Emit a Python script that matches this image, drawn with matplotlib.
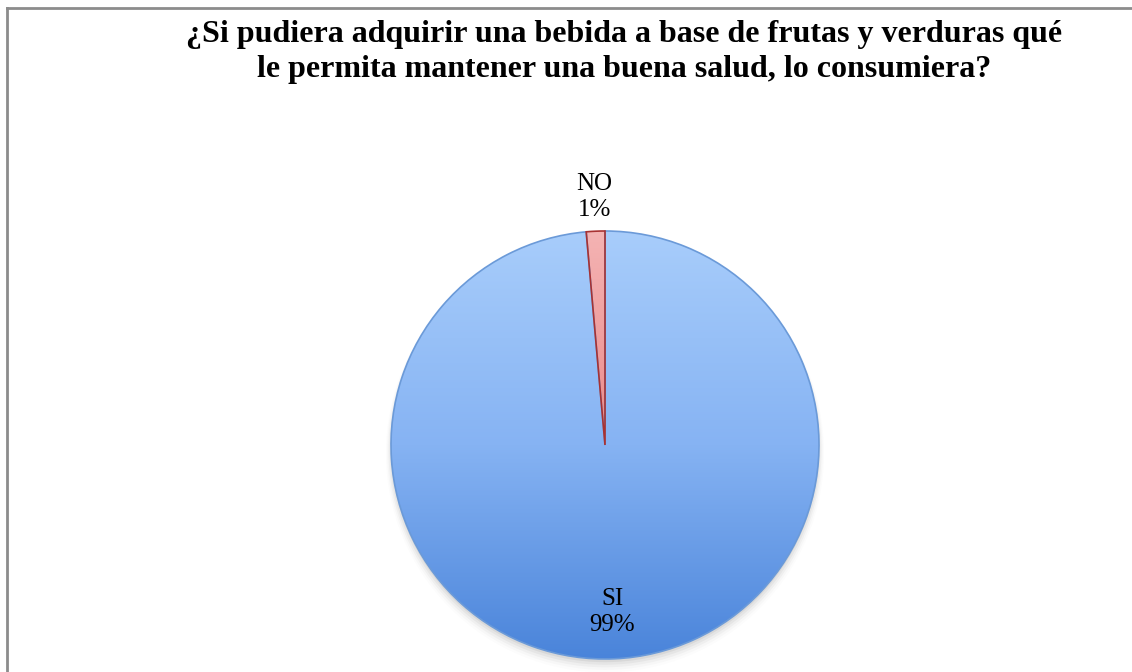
import numpy as np
import matplotlib
matplotlib.use("Agg")
import matplotlib.pyplot as plt
from matplotlib.lines import Line2D
from matplotlib.colors import LinearSegmentedColormap

TITLE = "¿Si pudiera adquirir una bebida a base de frutas y verduras qué\nle permita mantener una buena salud, lo consumiera?"
categories = ["SI", "NO"]
values = [98.6, 1.4]
pct_labels = ["99%", "1%"]

plt.rcParams["font.family"] = ["Liberation Serif", "DejaVu Serif"]

W, H = 1132, 672
fig = plt.figure(figsize=(W / 100, H / 100), dpi=100)

# chart frame (only top and left edges visible in the crop)
fig.add_artist(Line2D([7 / W, 1], [1 - 8 / H, 1 - 8 / H], color="#8c8c8c", lw=2))
fig.add_artist(Line2D([7 / W, 7 / W], [0, 1 - 8 / H], color="#8c8c8c", lw=2))

fig.text(624 / W, 1 - 52 / H, TITLE, ha="center", va="center",
         fontsize=23, fontweight="bold", linespacing=1.25)

# pie axes: radius 1 = ~214 px, centre near (605, 445)
R = 214
cx, cy = 605, 445
side = 2.4 * R
ax = fig.add_axes([(cx - side / 2) / W, (H - cy - side / 2) / H, side / W, side / H])
ax.axis("off")

# soft shadow under the pie
for i, a in enumerate(np.linspace(0.05, 0.01, 5)):
    sh = plt.Circle((0.0, -0.015 - 0.006 * i), 1.0 + 0.006 * i, color="black",
                    alpha=a, zorder=0, lw=0)
    ax.add_patch(sh)

wedges, _ = ax.pie(values, startangle=90, counterclock=False, radius=1.0,
                   wedgeprops=dict(linewidth=1.2))

grads = {
    "SI": (["#4a84da", "#86b3f3", "#a8cdfb"], "#6b9ad8"),
    "NO": (["#d96464", "#eb8a8a", "#f4b3b3"], "#a83232"),
}
grad = np.linspace(0, 1, 256).reshape(-1, 1)
for w, cat in zip(wedges, categories):
    cols, edge = grads[cat]
    w.set_facecolor("none")
    w.set_edgecolor(edge)
    w.set_zorder(3)
    cmap = LinearSegmentedColormap.from_list(cat, cols)
    im = ax.imshow(grad, cmap=cmap, extent=[-1, 1, -1, 1], origin="lower",
                   aspect="auto", zorder=2)
    im.set_clip_path(w)

ax.set_xlim(-1.2, 1.2)
ax.set_ylim(-1.2, 1.2)

# labels
label_r = {"SI": 0.78, "NO": 1.16}
for w, cat, pct in zip(wedges, categories, pct_labels):
    mid = np.deg2rad((w.theta1 + w.theta2) / 2)
    r = label_r[cat]
    ax.text(r * np.cos(mid), r * np.sin(mid), f"{cat}\n{pct}", ha="center",
            va="center", fontsize=18, linespacing=1.25, zorder=5)

fig.savefig("out.png", dpi=100, facecolor="white")
